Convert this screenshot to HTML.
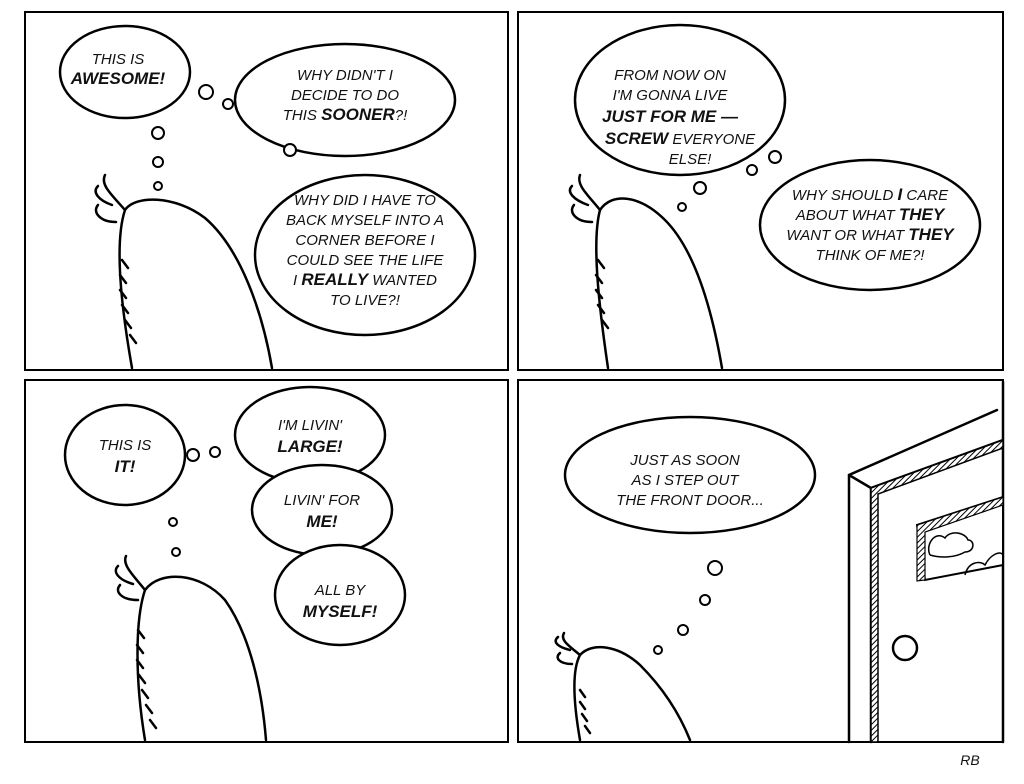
<!DOCTYPE html>
<html><head><style>
html,body{margin:0;padding:0;background:#fff;}
svg{display:block}
text{font-family:"Liberation Sans",sans-serif;font-style:italic;font-size:15px;fill:#111;text-anchor:middle}
.b{font-weight:bold;font-size:17px}
</style></head><body>
<svg width="1024" height="784" viewBox="0 0 1024 784" xmlns="http://www.w3.org/2000/svg">
<defs>
<pattern id="h" width="4" height="4" patternUnits="userSpaceOnUse" patternTransform="rotate(45)"><rect width="4" height="4" fill="#fff"/><line x1="0" y1="0" x2="0" y2="4" stroke="#000" stroke-width="2"/></pattern>
</defs>
<g fill="none" stroke="#000" stroke-width="2">
<rect x="25" y="12" width="483" height="358"/>
<rect x="518" y="12" width="485" height="358"/>
<rect x="25" y="380" width="483" height="362"/>
<rect x="518" y="380" width="485" height="362"/>
</g>
<g fill="#fff" stroke="#000" stroke-width="2.5">
<ellipse cx="125" cy="72" rx="65" ry="46"/>
<ellipse cx="345" cy="100" rx="110" ry="56"/>
<ellipse cx="365" cy="255" rx="110" ry="80"/>
<ellipse cx="680" cy="100" rx="105" ry="75"/>
<ellipse cx="870" cy="225" rx="110" ry="65"/>
<ellipse cx="125" cy="455" rx="60" ry="50"/>
<ellipse cx="310" cy="435" rx="75" ry="48"/>
<ellipse cx="322" cy="510" rx="70" ry="45"/>
<ellipse cx="340" cy="595" rx="65" ry="50"/>
<ellipse cx="690" cy="475" rx="125" ry="58"/>
</g>
<g fill="#fff" stroke="#000" stroke-width="2">
<circle cx="206" cy="92" r="7"/><circle cx="228" cy="104" r="5"/>
<circle cx="158" cy="133" r="6"/><circle cx="158" cy="162" r="5"/><circle cx="158" cy="186" r="4"/>
<circle cx="290" cy="150" r="6"/>
<circle cx="700" cy="188" r="6"/><circle cx="682" cy="207" r="4"/>
<circle cx="775" cy="157" r="6"/><circle cx="752" cy="170" r="5"/>
<circle cx="193" cy="455" r="6"/><circle cx="215" cy="452" r="5"/>
<circle cx="173" cy="522" r="4"/><circle cx="176" cy="552" r="4"/>
<circle cx="715" cy="568" r="7"/><circle cx="705" cy="600" r="5"/><circle cx="683" cy="630" r="5"/><circle cx="658" cy="650" r="4"/>
</g>
<g fill="none" stroke="#000" stroke-width="2.5" stroke-linecap="round">
<path d="M132 368 C120 300 115 240 125 210 C135 195 175 195 205 218 C240 248 262 310 272 368"/>
<path d="M125 210 C112 195 100 185 105 175 M112 205 C98 200 92 192 98 186 M116 222 C100 222 92 212 98 205"/>
<path d="M122 260 l6 8 M120 275 l6 8 M120 290 l6 8 M122 305 l6 8 M125 320 l6 8 M130 335 l6 8"/>
<path d="M608 368 C598 300 592 240 600 210 C612 192 640 195 665 220 C695 250 712 310 722 368"/>
<path d="M600 210 C588 195 576 185 580 175 M588 205 C574 200 566 192 572 186 M592 222 C576 222 568 212 574 205"/>
<path d="M598 260 l6 8 M596 275 l6 8 M596 290 l6 8 M598 305 l6 8 M602 320 l6 8"/>
<path d="M145 740 C135 680 135 620 145 590 C160 570 200 572 225 600 C250 635 262 690 266 740"/>
<path d="M145 590 C133 575 122 565 126 556 M133 584 C119 580 112 572 118 566 M138 600 C122 600 114 592 120 585"/>
<path d="M138 630 l6 8 M137 645 l6 8 M137 660 l6 8 M139 675 l6 8 M142 690 l6 8 M146 705 l6 8 M150 720 l6 8"/>
<path d="M580 740 C573 700 572 670 580 655 C592 642 618 645 640 665 C665 690 680 715 690 740"/>
<path d="M580 655 C568 645 560 640 564 633 M570 650 C558 647 552 642 558 637 M572 664 C560 664 554 658 560 653"/>
<path d="M580 690 l5 7 M580 702 l5 7 M582 714 l5 7 M585 726 l5 7"/>
<path d="M849 742 L849 475 L997 410 M849 475 L871 488 M1003 440 L871 488 L871 742 M1003 382 L1003 742"/>
</g>
<path d="M871 488 L1003 440 L1003 448 L878 494 L878 742 L871 742 Z" fill="url(#h)" stroke="#000" stroke-width="1.5"/>
<path d="M917 525 L1003 497 L1003 565 L925 580 Z" fill="#fff" stroke="#000" stroke-width="2"/>
<path d="M917 525 L1003 497 L1003 505 L925 532 L925 580 L917 581 Z" fill="url(#h)" stroke="#000" stroke-width="1.2"/>
<path d="M930 555 C925 545 935 530 945 538 C950 530 965 532 968 540 C975 540 975 552 965 552 C955 558 940 558 930 555 M965 575 C968 562 980 560 985 565 C990 555 1000 550 1003 555" fill="none" stroke="#000" stroke-width="1.5"/>
<circle cx="905" cy="648" r="12" fill="#fff" stroke="#000" stroke-width="2.5"/>
<g>
<text x="118" y="64">THIS IS</text><text x="118" y="84" class="b">AWESOME!</text>
<text x="345" y="80">WHY DIDN'T I</text><text x="345" y="100">DECIDE TO DO</text><text x="345" y="120">THIS <tspan class="b">SOONER</tspan>?!</text>
<text x="365" y="205">WHY DID I HAVE TO</text><text x="365" y="225">BACK MYSELF INTO A</text><text x="365" y="245">CORNER BEFORE I</text><text x="365" y="265">COULD SEE THE LIFE</text><text x="365" y="285">I <tspan class="b">REALLY</tspan> WANTED</text><text x="365" y="305">TO LIVE?!</text>
<text x="670" y="80">FROM NOW ON</text><text x="670" y="100">I'M GONNA LIVE</text><text x="670" y="122" class="b">JUST FOR ME —</text><text x="680" y="144"><tspan class="b">SCREW</tspan> EVERYONE</text><text x="690" y="164">ELSE!</text>
<text x="870" y="200">WHY SHOULD <tspan class="b">I</tspan> CARE</text><text x="870" y="220">ABOUT WHAT <tspan class="b">THEY</tspan></text><text x="870" y="240">WANT OR WHAT <tspan class="b">THEY</tspan></text><text x="870" y="260">THINK OF ME?!</text>
<text x="125" y="450">THIS IS</text><text x="125" y="472" class="b">IT!</text>
<text x="310" y="430">I'M LIVIN'</text><text x="310" y="452" class="b">LARGE!</text>
<text x="322" y="505">LIVIN' FOR</text><text x="322" y="527" class="b">ME!</text>
<text x="340" y="595">ALL BY</text><text x="340" y="617" class="b">MYSELF!</text>
<text x="685" y="465">JUST AS SOON</text><text x="685" y="485">AS I STEP OUT</text><text x="690" y="505">THE FRONT DOOR...</text>
<text x="970" y="765" style="font-size:14px">RB</text>
</g>
</svg>
</body></html>
